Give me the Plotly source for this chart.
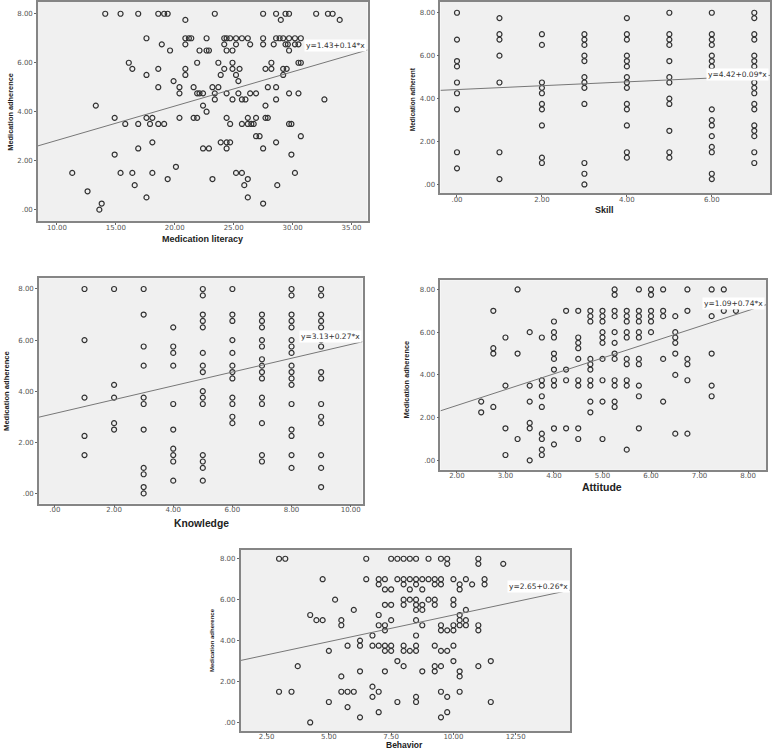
import plotly.graph_objects as go

W, H = 772, 749

# --- panel 1: medication literacy
lit_x = [14.1, 15.4, 16.9, 18.6, 19.1, 19.4, 23.4, 27.5, 28.6, 29.4, 29.7, 32.0, 33.0, 33.4,
         20.9, 29.0, 34.0,
         17.6, 20.9, 21.2, 21.4, 22.7, 24.2, 24.4, 24.7, 25.2, 25.7, 26.2, 27.5, 28.6, 28.9, 29.2, 29.7, 30.2, 30.7,
         18.9, 20.9, 24.2, 25.2, 26.4, 27.5, 28.4, 29.4, 29.6, 30.2, 30.5,
         19.6, 22.1, 22.7, 22.9, 24.4, 24.9, 29.7,
         16.1, 21.9, 23.7, 24.9, 28.2, 30.5, 30.7,
         16.4, 18.6, 20.9, 24.2, 24.9, 25.5, 27.7, 28.2, 29.2, 29.5,
         17.6, 20.9, 23.9, 25.2, 29.2,
         19.9, 25.4,
         18.6, 20.4, 21.6, 23.2, 23.7, 27.9, 28.6,
         20.4, 21.9, 22.1, 22.4, 23.4, 24.4, 25.4, 26.4, 26.9, 29.7, 30.5,
         23.4, 24.9, 25.7, 26.0, 28.6, 32.7,
         13.3, 22.4, 27.7,
         22.7,
         14.9, 17.6, 18.1, 20.4, 21.6, 21.9, 24.4, 26.2, 26.9, 27.7, 27.9,
         15.8, 16.9, 17.9, 18.6, 19.1, 24.7, 25.7, 26.2, 26.5, 26.7, 29.7, 29.9,
         26.9, 27.2, 30.7,
         18.1, 23.9, 24.4, 24.7, 28.6,
         16.9, 22.4, 22.9, 24.4, 27.5,
         14.9, 29.9,
         20.1,
         11.3, 15.4, 16.4, 18.1, 25.2, 25.7, 30.2,
         19.4, 23.2, 26.2,
         16.6, 25.9, 28.7,
         12.6,
         17.6, 26.2,
         13.8, 27.5,
         13.6]
lit_y = [8, 8, 8, 8, 8, 8, 8, 8, 8, 8, 8, 8, 8, 8,
         7.75, 7.75, 7.75,
         7, 7, 7, 7, 7, 7, 7, 7, 7, 7, 7, 7, 7, 7, 7, 7, 7, 7,
         6.75, 6.75, 6.75, 6.75, 6.75, 6.75, 6.75, 6.75, 6.75, 6.75, 6.75,
         6.5, 6.5, 6.5, 6.5, 6.5, 6.5, 6.5,
         6, 6, 6, 6, 6, 6, 6,
         5.75, 5.75, 5.75, 5.75, 5.75, 5.75, 5.75, 5.75, 5.75, 5.75,
         5.5, 5.5, 5.5, 5.5, 5.5,
         5.25, 5.25,
         5, 5, 5, 5, 5, 5, 5,
         4.75, 4.75, 4.75, 4.75, 4.75, 4.75, 4.75, 4.75, 4.75, 4.75, 4.75,
         4.5, 4.5, 4.5, 4.5, 4.5, 4.5,
         4.25, 4.25, 4.25,
         4,
         3.75, 3.75, 3.75, 3.75, 3.75, 3.75, 3.75, 3.75, 3.75, 3.75, 3.75,
         3.5, 3.5, 3.5, 3.5, 3.5, 3.5, 3.5, 3.5, 3.5, 3.5, 3.5, 3.5,
         3, 3, 3,
         2.75, 2.75, 2.75, 2.75, 2.75,
         2.5, 2.5, 2.5, 2.5, 2.5,
         2.25, 2.25,
         1.75,
         1.5, 1.5, 1.5, 1.5, 1.5, 1.5, 1.5,
         1.25, 1.25, 1.25,
         1, 1, 1,
         0.75,
         0.5, 0.5,
         0.25, 0.25,
         0]

# --- panel 2: skill
skill_x = [0, 0, 0, 0, 0, 0, 0, 0, 0,
           1, 1, 1, 1, 1, 1, 1,
           2, 2, 2, 2, 2, 2, 2, 2, 2, 2,
           3, 3, 3, 3, 3, 3, 3, 3, 3, 3, 3, 3,
           4, 4, 4, 4, 4, 4, 4, 4, 4, 4, 4, 4, 4, 4,
           5, 5, 5, 5, 5, 5, 5, 5, 5, 5, 5, 5,
           6, 6, 6, 6, 6, 6, 6, 6, 6, 6, 6, 6, 6, 6, 6, 6,
           7, 7, 7, 7, 7, 7, 7, 7, 7, 7, 7, 7, 7, 7, 7, 7, 7, 7]
skill_y = [8, 6.75, 5.75, 5.5, 4.75, 4.25, 3.5, 1.5, 0.75,
           7.75, 7, 6.75, 6, 4.75, 1.5, 0.25,
           7, 6.5, 4.75, 4.5, 4.25, 3.75, 3.5, 2.75, 1.25, 1,
           7, 6.75, 6.5, 6, 5.75, 5, 4.75, 4.5, 3.75, 1, 0.5, 0,
           7.75, 7, 6.75, 6, 5.75, 5.5, 5, 4.75, 4.5, 3.75, 3.5, 2.75, 1.5, 1.25,
           8, 7, 6.75, 6.5, 5.75, 5, 4.75, 4, 3.75, 2.5, 1.5, 1.25,
           8, 7, 6.75, 6.5, 6, 5.75, 5.5, 5.25, 3.5, 3, 2.75, 2.25, 1.75, 1.5, 0.5, 0.25,
           8, 7.75, 7, 6.75, 6, 5.75, 5.5, 5.25, 4.75, 4.5, 4.25, 3.75, 3.5, 2.75, 2.5, 2.25, 1.5, 1]

# --- panel 3: knowledge
know_x = [1, 1, 1, 1, 1,
          2, 2, 2, 2, 2,
          3, 3, 3, 3, 3, 3, 3, 3, 3, 3, 3,
          4, 4, 4, 4, 4, 4, 4, 4, 4, 4,
          5, 5, 5, 5, 5, 5, 5, 5, 5, 5, 5, 5, 5, 5, 5,
          6, 6, 6, 6, 6, 6, 6, 6, 6, 6, 6, 6,
          7, 7, 7, 7, 7, 7, 7, 7, 7, 7, 7, 7, 7, 7,
          8, 8, 8, 8, 8, 8, 8, 8, 8, 8, 8, 8, 8, 8, 8, 8, 8,
          9, 9, 9, 9, 9, 9, 9, 9, 9, 9, 9, 9, 9, 9, 9]
know_y = [8, 6, 3.75, 2.25, 1.5,
          8, 4.25, 3.75, 2.75, 2.5,
          8, 7, 5.75, 5, 3.75, 3.5, 2.5, 1, 0.75, 0.25, 0,
          6.5, 5.75, 5.5, 5, 3.5, 2.5, 1.75, 1.5, 1.25, 0.5,
          8, 7.75, 7, 6.75, 6.5, 5.5, 5, 4.75, 4, 3.75, 3.5, 1.5, 1.25, 1, 0.5,
          8, 7, 6.75, 6, 5.5, 5, 4.75, 4.5, 3.75, 3.5, 3, 2.75,
          7, 6.75, 6.5, 6, 5.75, 5.25, 5, 4.75, 4.5, 3.75, 3.5, 2.75, 1.5, 1.25,
          8, 7.75, 7, 6.75, 6.5, 6, 5.75, 5.5, 5, 4.75, 4.5, 4.25, 3.5, 2.5, 2.25, 1.5, 1,
          8, 7.75, 7, 6.75, 6.5, 6, 5.75, 4.75, 4.5, 3.5, 3, 2.75, 1.5, 1, 0.25]

# --- panel 4: attitude
att_x = [2.5, 2.5,
         2.75, 2.75, 2.75, 2.75,
         3, 3, 3, 3,
         3.25, 3.25, 3.25,
         3.5, 3.5, 3.5, 3.5, 3.5, 3.5,
         3.75, 3.75, 3.75, 3.75, 3.75, 3.75, 3.75, 3.75, 3.75,
         4, 4, 4, 4, 4, 4, 4, 4, 4, 4,
         4.25, 4.25, 4.25, 4.25,
         4.5, 4.5, 4.5, 4.5, 4.5, 4.5, 4.5, 4.5, 4.5,
         4.75, 4.75, 4.75, 4.75, 4.75, 4.75, 4.75, 4.75, 4.75, 4.75,
         5, 5, 5, 5, 5, 5, 5, 5, 5, 5,
         5.25, 5.25, 5.25, 5.25, 5.25, 5.25, 5.25, 5.25, 5.25, 5.25, 5.25, 5.25,
         5.5, 5.5, 5.5, 5.5, 5.5, 5.5, 5.5, 5.5, 5.5, 5.5,
         5.75, 5.75, 5.75, 5.75, 5.75, 5.75, 5.75, 5.75, 5.75, 5.75, 5.75,
         6, 6, 6, 6, 6, 6,
         6.25, 6.25, 6.25, 6.25, 6.25,
         6.5, 6.5, 6.5, 6.5, 6.5, 6.5, 6.5,
         6.75, 6.75, 6.75, 6.75, 6.75, 6.75,
         7.25, 7.25, 7.25, 7.25, 7.25,
         7.5, 7.5,
         7.75]
att_y = [2.75, 2.25,
         7, 5.25, 5, 2.5,
         5.75, 3.5, 1.5, 0.25,
         8, 5, 1,
         6, 3.5, 2.75, 1.75, 1.5, 0,
         5.75, 3.75, 3.5, 3, 2.5, 1.25, 1, 0.5, 0.25,
         6.5, 6, 5.75, 5, 4.75, 4.25, 3.75, 3.5, 1.5, 0.75,
         7, 4.25, 3.75, 1.5,
         7, 5.75, 5.5, 5.25, 4.75, 3.75, 3.5, 1.5, 1,
         7, 6.75, 6.5, 4.75, 4.5, 4.25, 3.75, 3.5, 2.75, 2.25,
         7, 6.75, 6.5, 6, 5.75, 5.5, 4.75, 3.75, 2.75, 1,
         8, 7.75, 7, 6.75, 6, 5.5, 5, 4.75, 3.75, 3.5, 2.75, 2.5,
         7, 6.75, 6.5, 6, 5.75, 4.75, 4.5, 3.75, 3.5, 0.5,
         8, 7, 6.75, 6.5, 6, 5.75, 4.75, 4.5, 3.5, 3, 1.5,
         8, 7.75, 7, 6.75, 6.5, 6,
         8, 7, 6.75, 4.75, 2.75,
         6.75, 6, 5.75, 5.5, 5, 4, 1.25,
         8, 7, 4.75, 4.5, 3.75, 1.25,
         8, 6.75, 5, 3.5, 3,
         8, 7,
         7]

# --- panel 5: behavior
beh_x = [3, 3.25, 6.5, 7.5, 7.75, 8, 8.25, 8.5, 9, 9.5, 9.75, 11,
         9.75, 11, 12,
         4.75, 6.5, 7, 7.25, 7.75, 8, 8.25, 8.5, 8.75, 9, 9.25, 9.5, 10, 10.5, 11.25,
         7, 8, 8.5, 9.25, 9.5, 10.25, 10.75, 11.25,
         7.25, 7.5, 8.25, 8.75, 10.25,
         5.25, 8, 8.25, 8.5, 9, 9.25, 10,
         7.25, 7.5, 8, 8.5, 8.75, 9.25, 10,
         6, 8.5, 8.75, 10.5,
         4.25, 7, 10.25,
         4.5, 4.75, 5.5, 7.5, 8.5, 10.25, 10.5,
         5.5, 7, 7.25, 8.75, 9.5, 10, 10.25, 10.5, 11,
         7.25, 9.5, 9.75, 10, 11,
         6.75, 8.5,
         6.25,
         5.75, 6.25, 6.75, 7, 7.25, 7.5, 8, 8.5, 9.25, 10,
         5, 7.25, 7.5, 8, 8.25, 8.5, 9.5, 9.75,
         7.75, 10, 11.5,
         3.75, 8, 9.25, 9.5, 11,
         6.25, 7.25, 8.75, 9.25, 10.25,
         5.5, 10.25,
         6.75,
         3, 3.5, 5.5, 5.75, 6, 7, 9.5, 10.25,
         6.75, 8.5, 9.75,
         5, 7.75, 8.5, 11.5,
         5.75,
         7, 9.75,
         6.25, 9.5,
         4.25]
beh_y = [8, 8, 8, 8, 8, 8, 8, 8, 8, 8, 8, 8,
         7.75, 7.75, 7.75,
         7, 7, 7, 7, 7, 7, 7, 7, 7, 7, 7, 7, 7, 7, 7,
         6.75, 6.75, 6.75, 6.75, 6.75, 6.75, 6.75, 6.75,
         6.5, 6.5, 6.5, 6.5, 6.5,
         6, 6, 6, 6, 6, 6, 6,
         5.75, 5.75, 5.75, 5.75, 5.75, 5.75, 5.75,
         5.5, 5.5, 5.5, 5.5,
         5.25, 5.25, 5.25,
         5, 5, 5, 5, 5, 5, 5,
         4.75, 4.75, 4.75, 4.75, 4.75, 4.75, 4.75, 4.75, 4.75,
         4.5, 4.5, 4.5, 4.5, 4.5,
         4.25, 4.25,
         4,
         3.75, 3.75, 3.75, 3.75, 3.75, 3.75, 3.75, 3.75, 3.75, 3.75,
         3.5, 3.5, 3.5, 3.5, 3.5, 3.5, 3.5, 3.5,
         3, 3, 3,
         2.75, 2.75, 2.75, 2.75, 2.75,
         2.5, 2.5, 2.5, 2.5, 2.5,
         2.25, 2.25,
         1.75,
         1.5, 1.5, 1.5, 1.5, 1.5, 1.5, 1.5, 1.5,
         1.25, 1.25, 1.25,
         1, 1, 1, 1,
         0.75,
         0.5, 0.5,
         0.25, 0.25,
         0]

intercepts = [1.43, 4.42, 3.13, 1.09, 2.65]
slopes = [0.14, 0.09, 0.27, 0.74, 0.26]
eq_labels = ["y=1.43+0.14*x", "y=4.42+0.09*x", "y=3.13+0.27*x", "y=1.09+0.74*x", "y=2.65+0.26*x"]
x_titles = ["Medication literacy", "Skill", "Knowledge", "Attitude", "Behavior"]
y_titles = ["Medication adherence", "Medication adherent", "Medication adherence",
            "Medication adherence", "Medication adherence"]
y_tickvals = [0, 2, 4, 6, 8]
y_ticktext = [".00", "2.00", "4.00", "6.00", "8.00"]
x_tickvals = [[10, 15, 20, 25, 30, 35], [0, 2, 4, 6], [0, 2, 4, 6, 8, 10],
              [2, 3, 4, 5, 6, 7, 8], [2.5, 5, 7.5, 10, 12.5]]
x_ticktext = [["10.00", "15.00", "20.00", "25.00", "30.00", "35.00"],
              [".00", "2.00", "4.00", "6.00"],
              [".00", "2.00", "4.00", "6.00", "8.00", "10.00"],
              ["2.00", "3.00", "4.00", "5.00", "6.00", "7.00", "8.00"],
              ["2.50", "5.00", "7.50", "10.00", "12.50"]]

xs = [lit_x, skill_x, know_x, att_x, beh_x]
ys = [lit_y, skill_y, know_y, att_y, beh_y]

# layout: pixel boxes (left, top, right, bottom), axis ranges, label spots
boxes = [(38, 0, 368, 220), (441, 0, 771, 192), (39, 277, 363, 503),
         (441, 279, 767, 469), (241, 549, 571, 731)]
x_ranges = [[8.39, 36.36], [-0.39, 7.37], [-0.54, 10.4], [1.66, 8.37], [1.46, 14.69]]
y_ranges = [[-0.48, 8.48], [-0.42, 8.5], [-0.40, 8.42], [-0.44, 8.43], [-0.42, 8.45]]
eq_y = [6.72, 5.1, 6.16, 7.36, 6.65]
xt_pos = [(203, 238), (605, 209), (202, 523), (603, 486), (405, 745)]
xt_size = [9, 9, 10.3, 10.5, 8.5]
yt_pos = [(11, 110), (413, 97), (7, 390), (408, 378), (213, 640)]
yt_size = [7.4, 6.5, 7.6, 7.4, 6.0]

tick_font = dict(family="DejaVu Sans", size=7, color="#555")
fig = go.Figure()
annotations = []

for i in range(5):
    n = "" if i == 0 else str(i + 1)
    l, t, r, b = boxes[i]
    fig.add_trace(go.Scatter(
        x=xs[i], y=ys[i], mode="markers", xaxis="x" + n, yaxis="y" + n,
        marker=dict(symbol="circle-open", size=5, color="#333",
                    line=dict(width=1.2, color="#333")),
        showlegend=False, hoverinfo="x+y"))
    xr = x_ranges[i]
    fig.add_trace(go.Scatter(
        x=xr, y=[intercepts[i] + slopes[i] * v for v in xr], mode="lines",
        xaxis="x" + n, yaxis="y" + n, line=dict(color="#777", width=1),
        showlegend=False, hoverinfo="skip"))
    axis_common = dict(showline=True, mirror=True, linecolor="#858585", linewidth=1.5,
                       showgrid=False, zeroline=False, ticks="outside", ticklen=2,
                       tickcolor="#666", tickfont=tick_font, fixedrange=True)
    fig.update_layout(**{
        "xaxis" + n: dict(axis_common, domain=[l / W, r / W], range=xr, ticklabelstandoff=-4,
                          anchor="y" + n, tickvals=x_tickvals[i], ticktext=x_ticktext[i]),
        "yaxis" + n: dict(axis_common, domain=[1 - b / H, 1 - t / H], range=y_ranges[i],
                          anchor="x" + n, tickvals=y_tickvals, ticktext=y_ticktext),
    })
    annotations.append(dict(
        text=eq_labels[i], xref=("x" + n) + " domain", yref="y" + n, x=0.998, y=eq_y[i],
        xanchor="right", yanchor="middle", showarrow=False, bgcolor="white",
        borderpad=1, font=dict(family="DejaVu Sans", size=7.5, color="#333")))
    cx, cy = xt_pos[i]
    annotations.append(dict(
        text="<b>%s</b>" % x_titles[i], xref="paper", yref="paper", x=cx / W, y=1 - cy / H,
        xanchor="center", yanchor="middle", showarrow=False,
        font=dict(family="Liberation Sans, Arial, sans-serif", size=xt_size[i], color="#222")))
    cx, cy = yt_pos[i]
    annotations.append(dict(
        text="<b>%s</b>" % y_titles[i], xref="paper", yref="paper", x=cx / W, y=1 - cy / H,
        xanchor="center", yanchor="middle", showarrow=False, textangle=-90,
        font=dict(family="Liberation Sans, Arial, sans-serif", size=yt_size[i], color="#222")))

fig.update_layout(
    width=W, height=H, margin=dict(l=0, r=0, t=0, b=0),
    paper_bgcolor="white", plot_bgcolor="#f0f0f0",
    annotations=annotations, showlegend=False,
)

# page body margin off so the figure sits at the window's top-left corner
fig.write_html("out.html", config={"displayModeBar": False},
               post_script="document.body.style.margin='0';")
